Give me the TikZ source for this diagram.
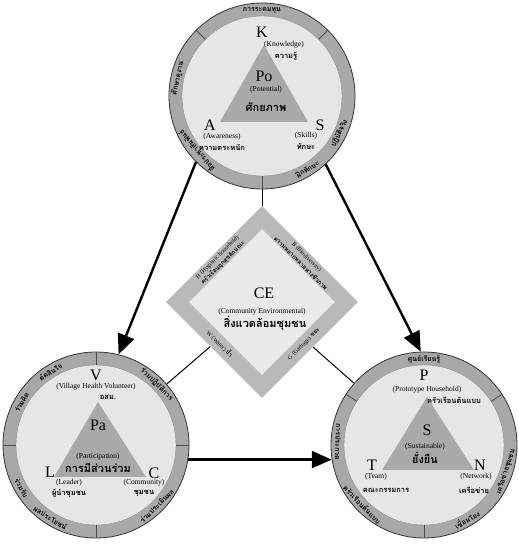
\documentclass[tikz,border=0pt]{standalone}
\usepackage{fontspec}
\setmainfont{Liberation Serif}
\newfontfamily\thaifont[Script=Thai]{Loma}
\usetikzlibrary{calc,arrows.meta,shapes.geometric,backgrounds}
\definecolor{ringc}{HTML}{A8A8A8}
\definecolor{innc}{HTML}{E6E6E6}
\definecolor{tric}{HTML}{A9A9A9}
\definecolor{bandc}{HTML}{B9B9B9}
\definecolor{diac}{HTML}{E9E9E9}
\tikzset{
  ring/.style={circle,draw=black!80,thick,fill=ringc,minimum size=186pt,inner sep=0pt},
  hole/.style={circle,draw=black!45,fill=innc,minimum size=160pt,inner sep=0pt},
  ar/.style={-{Triangle[length=20pt,width=17pt]},line width=2.4pt},
  thinln/.style={line width=1pt},
  divl/.style={black!70,thick},
  bigl/.style={font=\fontsize{16}{16}\selectfont,inner sep=0pt},
  enl/.style={font=\fontsize{7.5}{7.5}\selectfont,inner sep=0pt},
  thl/.style={font=\thaifont\bfseries\fontsize{7.5}{7.5}\selectfont,inner sep=0pt},
  thb/.style={font=\thaifont\bfseries\fontsize{11}{11}\selectfont,inner sep=0pt},
  bandl/.style={font=\fontsize{6}{6}\selectfont,inner sep=0pt},
  bandt/.style={font=\thaifont\bfseries\fontsize{6}{6}\selectfont,inner sep=0pt},
  rtl/.style={font=\thaifont\bfseries\fontsize{7}{7}\selectfont,inner sep=0pt}
}

\begin{document}
\begin{tikzpicture}[x=1pt,y=1pt]
\useasboundingbox (0,0) rectangle (519,544);
% three circles and the diamond
\node[ring] (po) at (262,448) {};
\node[hole] (poi) at (po) {};
\node[ring] (pa) at (96,99) {};
\node[hole] (pai) at (pa) {};
\node[ring] (su) at (424,99) {};
\node[hole] (sui) at (su) {};
\node[diamond,fill=bandc,minimum size=192pt,inner sep=0pt] (ce) at (262,242) {};
\node[diamond,fill=diac,minimum size=146pt,inner sep=0pt] (cei) at (ce) {};
\begin{scope}[on background layer]
\draw[thinln] (po) -- (ce);
\draw[thinln] (pa) -- (ce);
\draw[thinln] (su) -- (ce);
\end{scope}
% ring dividers
\foreach \a in {45,135,270} \draw[divl] ([shift={(\a:80)}]po.center) -- (po.\a);
\foreach \a in {0,90,180,270} \draw[divl] ([shift={(\a:80)}]pa.center) -- (pa.\a);
\foreach \a in {33,147,270} \draw[divl] ([shift={(\a:80)}]su.center) -- (su.\a);
% ring texts: circle/angle/rotation/text
\foreach \c/\a/\r/\txt in {
  po/90/0/การระดมทุน, po/220/130/สื่อประชาสัมพันธ์ /, po/168/78/ศึกษาดูงาน,
  po/302/32/ฝึกทักษะ, po/334/64/ปฏิบัติจริง,
  pa/150/60/ร่วมคิด, pa/122/32/ตัดสินใจ, pa/45/-45/ร่วมปฏิบัติการ,
  pa/210/-60/ร่วมรับ, pa/238/-32/ผลประโยชน์, pa/315/45/ร่วมประเมินผล,
  su/90/0/ศูนย์เรียนรู้, su/178/-92/การประกวด, su/224/-46/ครัวเรือนต้นแบบ,
  su/300/30/เชื่อมโยง, su/342/72/เครือข่ายชุมชน}
  \node[rtl,rotate=\r] (r\c\a) at ([shift={(\a:86)}]\c.center) {\txt};
% triangles
\fill[tric] ($(po)+(2,51)$) -- ($(po)+(-42,-26)$) -- ($(po)+(46,-26)$) -- cycle;
\fill[tric] ($(pa)+(2,43)$) -- ($(pa)+(-42,-32)$) -- ($(pa)+(50,-32)$) -- cycle;
\fill[tric] ($(su)+(3,48)$) -- ($(su)+(-42,-25)$) -- ($(su)+(50,-25)$) -- cycle;
% Po
\node[bigl] (k) at ($(po)+(0,64)$) {K};
\node[enl] (kn) at ($(po)+(22,51)$) {(Knowledge)};
\node[thl] (kt) at ($(po)+(24,40)$) {ความรู้};
\node[bigl] (pot) at ($(po)+(2,20)$) {Po};
\node[enl] (pon) at ($(po)+(4,6)$) {(Potential)};
\node[thb] (pott) at ($(po)+(4,-11)$) {ศักยภาพ};
\node[bigl] (a) at ($(po)+(-52,-29)$) {A};
\node[enl] (an) at ($(po)+(-40,-41)$) {(Awareness)};
\node[thl] (atx) at ($(po)+(-40,-51)$) {ความตระหนัก};
\node[bigl] (s) at ($(po)+(58,-29)$) {S};
\node[enl] (sn) at ($(po)+(44,-40)$) {(Skills)};
\node[thl] (st) at ($(po)+(44,-50)$) {ทักษะ};
% Pa
\node[bigl] (v) at ($(pa)+(0,70)$) {V};
\node[enl] (vn) at ($(pa)+(0,58)$) {(Village Health Volunteer)};
\node[thl] (vt) at ($(pa)+(12,48)$) {อสม.};
\node[bigl] (pat) at ($(pa)+(2,20)$) {Pa};
\node[enl] (pan) at ($(pa)+(2,-12)$) {(Participation)};
\node[thb] (patt) at ($(pa)+(2,-23)$) {การมีส่วนร่วม};
\node[bigl] (l) at ($(pa)+(-46,-27)$) {L};
\node[enl] (lnn) at ($(pa)+(-27,-38)$) {(Leader)};
\node[thl] (lt) at ($(pa)+(-27,-48)$) {ผู้นำชุมชน};
\node[bigl] (c) at ($(pa)+(58,-28)$) {C};
\node[enl] (cn) at ($(pa)+(48,-38)$) {(Community)};
\node[thl] (ct) at ($(pa)+(48,-48)$) {ชุมชน};
% S
\node[bigl] (p) at ($(su)+(0,70)$) {P};
\node[enl] (pn) at ($(su)+(3,55)$) {(Prototype Household)};
\node[thl] (pt) at ($(su)+(30,45)$) {ครัวเรือนต้นแบบ};
\node[bigl] (sut) at ($(su)+(3,15)$) {S};
\node[enl] (sun) at ($(su)+(1,-2)$) {(Sustainable)};
\node[thb] (sutt) at ($(su)+(1,-13)$) {ยั่งยืน};
\node[bigl] (t) at ($(su)+(-52,-20)$) {T};
\node[enl] (tn) at ($(su)+(-48,-32)$) {(Team)};
\node[thl] (tt) at ($(su)+(-38,-45)$) {คณะกรรมการ};
\node[bigl] (n) at ($(su)+(56,-20)$) {N};
\node[enl] (nn) at ($(su)+(52,-32)$) {(Network)};
\node[thl] (nt) at ($(su)+(50,-45)$) {เครือข่าย};
% CE
\node[bigl] (cet) at ($(ce)+(2,9)$) {CE};
\node[enl] (cen) at ($(ce)+(0,-10)$) {(Community Environmental)};
\node[thb] (cett) at ($(ce)+(3,-21)$) {สิ่งแวดล้อมชุมชน};
\node[bandl,rotate=45] (h) at ($(ce)+(-44.5,44.5)$) {H (Hygienic household)};
\node[bandt,rotate=45] (ht) at ($(ce)+(-39,39)$) {ครัวเรือนถูกสุขลักษณะ};
\node[bandl,rotate=-45] (b) at ($(ce)+(44.5,44.5)$) {B (Biodiversity)};
\node[bandt,rotate=-45] (bt) at ($(ce)+(39,39)$) {ความหลากหลายทางชีวภาพ};
\node[bandl,rotate=-45] (w) at ($(ce)+(-42,-42)$) {W (Water) {\thaifont\bfseries น้ำ}};
\node[bandl,rotate=45] (g) at ($(ce)+(42,-42)$) {G (Garbage) {\thaifont\bfseries ขยะ}};
% arrows
\draw[ar] (po.225) -- (pa.76);
\draw[ar] (po.-47) -- (su.92);
\draw[ar] (pa.-9) -- (su.189);
\end{tikzpicture}
\end{document}
